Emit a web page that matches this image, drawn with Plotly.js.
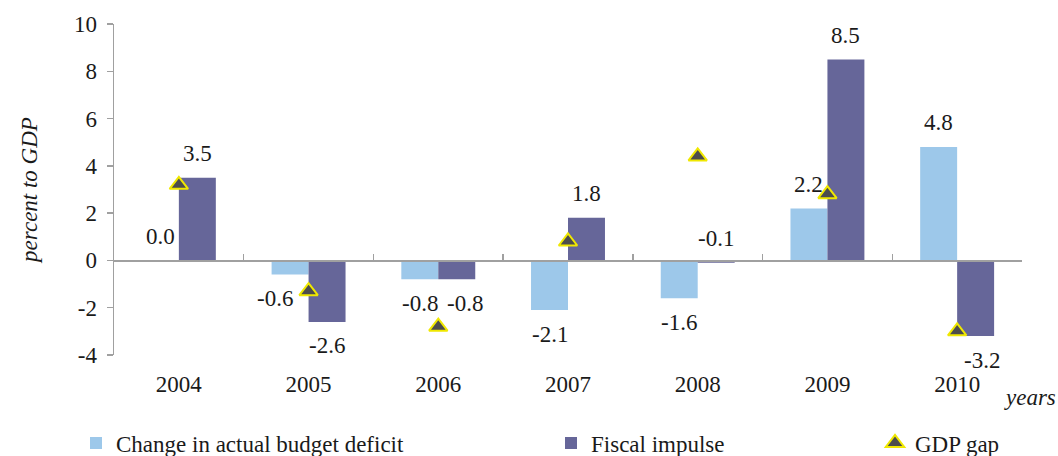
<!DOCTYPE html>
<html>
<head>
<meta charset="utf-8">
<script src="https://cdn.plot.ly/plotly-3.0.1.min.js"></script>
<style>html,body{margin:0;padding:0;background:#fff;}#chart{width:1058px;height:456px;}</style>
</head>
<body>
<div id="chart"></div>
<script>
// ---- data ----
const years = ['2004', '2005', '2006', '2007', '2008', '2009', '2010'];
const budgetDeficitChange = [0.0, -0.6, -0.8, -2.1, -1.6, 2.2, 4.8];
const fiscalImpulse = [3.5, -2.6, -0.8, 1.8, -0.1, 8.5, -3.2];
const gdpGap = [3.2, -1.3, -2.8, 0.8, 4.4, 2.8, -3.0];
const seriesNames = ['Change in actual budget deficit', 'Fiscal impulse', 'GDP gap'];
const yTickValues = [-4, -2, 0, 2, 4, 6, 8, 10];
const yTickLabels = ['-4', '-2', '0', '2', '4', '6', '8', '10'];

// ---- style ----
const FONT = 'Liberation Serif';
const FS = 23;
const TXT = '#1a1a1a';
const LIGHT = '#9dc8ea';
const DARK = '#666699';
const AXIS = '#a0a0a0';
const W = 1058, H = 456;
const M = {l: 114, r: 36, t: 24, b: 101};
const plotW = W - M.l - M.r;
const plotH = H - M.t - M.b;
const BARGAP = 0.43;
const barPx = plotW / years.length * (1 - BARGAP) / 2;
// label placement tweaks (px)
const deficitLabelDx = [0, -15, 0, 0, 0, 0, 0];
const fiscalLabelDx = [0, 0, 8, 0, 0, 0, 6];
const fiscalLabelAbove = [true, false, false, true, true, true, false];

const traces = [
  {type: 'bar', name: seriesNames[0], x: years, y: budgetDeficitChange,
   marker: {color: LIGHT}, legend: 'legend'},
  {type: 'bar', name: seriesNames[1], x: years, y: fiscalImpulse,
   marker: {color: DARK}, legend: 'legend2'},
  {type: 'scatter', mode: 'markers', name: seriesNames[2], x: years, y: gdpGap,
   xaxis: 'x2', legend: 'legend3',
   marker: {symbol: 'triangle-up', size: 16, color: '#4d4d4d', line: {color: '#f0e800', width: 2}}}
];

const annotations = [];
function lab(v, i, side, dx, above) {
  annotations.push({
    x: i, y: v, xref: 'x', yref: 'y',
    text: v.toFixed(1), showarrow: false,
    xshift: side * barPx / 2 + dx, yshift: above ? 24 : -24,
    font: {family: FONT, size: FS, color: TXT}
  });
}
budgetDeficitChange.forEach((v, i) => lab(v, i, -1, deficitLabelDx[i], v >= 0));
fiscalImpulse.forEach((v, i) => lab(v, i, 1, fiscalLabelDx[i], fiscalLabelAbove[i]));
annotations.push({
  text: 'years', xref: 'paper', yref: 'paper', x: (1058 - M.l) / plotW, y: -42 / plotH,
  xanchor: 'right', yanchor: 'middle', showarrow: false,
  font: {family: FONT, size: FS, style: 'italic', color: TXT}
});

function legendAt(px) {
  return {orientation: 'h', x: (px - M.l) / plotW, xref: 'paper', y: (M.t + plotH - 443) / plotH,
          yref: 'paper', xanchor: 'left', yanchor: 'middle', bgcolor: 'rgba(0,0,0,0)',
          font: {family: FONT, size: FS, color: TXT}};
}

const layout = {
  width: W, height: H,
  margin: Object.assign({pad: 0, autoexpand: false}, M),
  paper_bgcolor: '#fff', plot_bgcolor: '#fff',
  barmode: 'group', bargap: BARGAP, bargroupgap: 0,
  font: {family: FONT, size: FS, color: TXT},
  showlegend: true,
  legend: legendAt(76), legend2: legendAt(551), legend3: legendAt(875),
  xaxis: {type: 'category', categoryarray: years, range: [-0.5, 6.5],
          showline: false, showgrid: false, zeroline: false,
          ticks: 'outside', ticklen: 8, tickcolor: 'rgba(0,0,0,0)'},
  xaxis2: {type: 'category', categoryarray: years, overlaying: 'x', matches: 'x',
           anchor: 'free', position: 4 / 14, showticklabels: false,
           showline: true, linecolor: AXIS, linewidth: 1.5, showgrid: false, zeroline: false,
           ticks: 'inside', tickson: 'boundaries', ticklen: 6, tickcolor: AXIS, tickwidth: 1.5},
  yaxis: {range: [-4, 10], tickmode: 'array', tickvals: yTickValues, ticktext: yTickLabels, domain: [0, 1],
          showline: true, linecolor: AXIS, linewidth: 1.5, showgrid: false, zeroline: false,
          ticks: 'outside', ticklen: 6, tickcolor: AXIS, tickwidth: 1.5, ticklabelstandoff: 5,
          title: {text: 'percent to GDP', standoff: 30,
                  font: {family: FONT, size: FS, style: 'italic', color: TXT}}},
  annotations: annotations
};

Plotly.newPlot('chart', traces, layout, {displayModeBar: false, staticPlot: true});
</script>
</body>
</html>
